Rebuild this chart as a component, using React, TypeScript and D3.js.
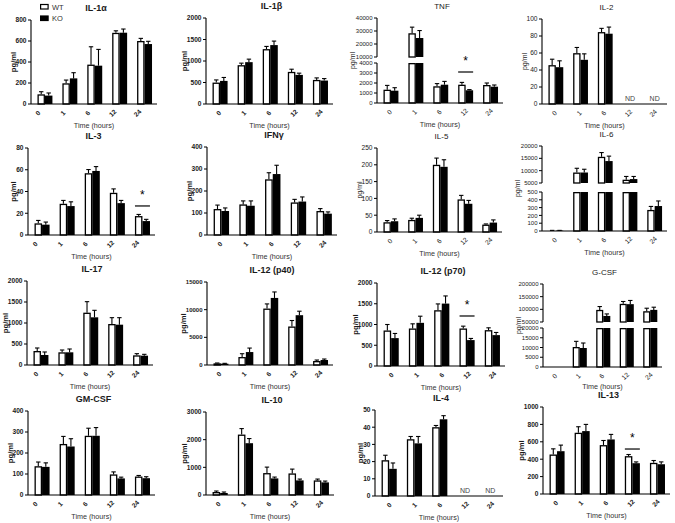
import React from 'react';
import * as d3 from 'd3';

const timePoints = ['0', '1', '6', '12', '24'];
const legendLabels = ['WT', 'KO'];
const xAxisTitle = 'Time (hours)';
const yAxisTitle = 'pg/ml';
const ndLabel = 'ND';

const panelTitles = ['IL-1α', 'IL-1β', 'TNF', 'IL-2', 'IL-3', 'IFNγ', 'IL-5', 'IL-6',
  'IL-17', 'IL-12 (p40)', 'IL-12 (p70)', 'G-CSF', 'GM-CSF', 'IL-10', 'IL-4', 'IL-13'];
const boldTitles = [true, true, false, false, true, true, false, false, true, true, true, false, true, true, true, true];

// ---- values (mean, SEM) per cytokine ----
const il1aWT = [92, 197, 375, 678, 600];
const il1aWTErr = [25, 31, 170, 19, 25];
const il1aKO = [80, 244, 365, 679, 571];
const il1aKOErr = [25, 54, 155, 35, 26];

const il1bWT = [498, 903, 1276, 747, 560];
const il1bWTErr = [62, 47, 63, 62, 47];
const il1bKO = [537, 973, 1370, 677, 545];
const il1bKOErr = [80, 70, 93, 40, 46];

const tnfWT = [1330, 28260, 1670, 1830, 1800];
const tnfWTErr = [430, 4700, 270, 230, 200];
const tnfKO = [1230, 24600, 1830, 1270, 1630];
const tnfKOErr = [300, 5750, 330, 70, 170];

const il2WT = [45.7, 59.8, 84.6, null, null];
const il2WTErr = [7, 6.7, 4.4, 0, 0];
const il2KO = [43.3, 52, 82.7, null, null];
const il2KOErr = [7.5, 7, 7.8, 0, 0];

const il3WT = [10.7, 28.7, 56.8, 38.8, 17.4];
const il3WTErr = [2.7, 3.1, 3.4, 3.6, 1.5];
const il3KO = [9.5, 26.6, 58.9, 29.3, 12.8];
const il3KOErr = [2.4, 3.9, 4, 2.5, 1.6];

const ifngWT = [118, 139, 253, 148, 109];
const ifngWTErr = [18, 16, 30, 14, 11];
const ifngKO = [109, 133, 277, 152, 97];
const ifngKOErr = [14, 22, 40, 21, 8];

const il5WT = [29, 36, 200, 97, 22];
const il5WTErr = [5, 5, 20, 12, 2];
const il5KO = [32, 42, 194, 84, 28];
const il5KOErr = [7, 8, 21, 10, 8];

const il6WT = [5, 9250, 15620, 6330, 270];
const il6WTErr = [3, 1720, 1725, 1320, 45];
const il6KO = [5, 9250, 13890, 6590, 320];
const il6KOErr = [3, 1325, 2000, 1060, 65];

const il17WT = [333, 302, 1246, 976, 230];
const il17WTErr = [72, 55, 262, 151, 40];
const il17KO = [238, 302, 1135, 960, 222];
const il17KOErr = [72, 79, 167, 167, 32];

const il12p40WT = [300, 1440, 10200, 6960, 720];
const il12p40WTErr = [60, 600, 840, 1080, 180];
const il12p40KO = [240, 2340, 12120, 9000, 900];
const il12p40KOErr = [60, 720, 1080, 720, 180];

const il12p70WT = [856, 904, 1344, 904, 864];
const il12p70WTErr = [144, 112, 152, 56, 56];
const il12p70KO = [672, 1040, 1504, 624, 744];
const il12p70KOErr = [112, 160, 184, 40, 64];

const gcsfWT = [0, 10256, 97800, 121700, 92500];
const gcsfWTErr = [0, 2900, 13200, 9300, 11900];
const gcsfKO = [0, 9740, 73900, 120400, 97800];
const gcsfKOErr = [0, 2560, 8000, 14600, 10600];

const gmcsfWT = [137, 243, 282, 98, 88];
const gmcsfWTErr = [20, 36, 36, 12, 5];
const gmcsfKO = [134, 231, 282, 79, 80];
const gmcsfKOErr = [19, 37, 39, 6, 7];

const il10WT = [108, 2184, 792, 780, 528];
const il10WTErr = [36, 216, 216, 156, 48];
const il10KO = [72, 1872, 600, 528, 456];
const il10KOErr = [36, 168, 48, 48, 48];

const il4WT = [20.8, 33, 40, null, null];
const il4WTErr = [2.9, 1.6, 1, 0, 0];
const il4KO = [15.8, 30.6, 44.6, null, null];
const il4KOErr = [3.4, 4, 2.1, 0, 0];

const il13WT = [454, 704, 562, 435, 358];
const il13WTErr = [65, 69, 53, 19, 27];
const il13KO = [492, 723, 627, 354, 342];
const il13KOErr = [70, 77, 58, 15, 27];

// ---- tick values ----
const il1aTicks = [0, 200, 400, 600, 800];
const il1bTicks = [0, 500, 1000, 1500, 2000];
const tnfLowerTicks = [0, 1000, 2000, 3000, 4000];
const tnfUpperTicks = [10000, 20000, 30000, 40000];
const il2Ticks = [0, 20, 40, 60, 80, 100];
const il3Ticks = [0, 20, 40, 60, 80];
const ifngTicks = [0, 100, 200, 300, 400];
const il5Ticks = [0, 50, 100, 150, 200, 250];
const il6LowerTicks = [0, 100, 200, 300, 400, 500];
const il6UpperTicks = [5000, 10000, 15000, 20000];
const il17Ticks = [0, 500, 1000, 1500, 2000];
const il12p40Ticks = [0, 5000, 10000, 15000];
const il12p70Ticks = [0, 500, 1000, 1500, 2000];
const gcsfLowerTicks = [0, 5000, 10000, 15000, 20000];
const gcsfUpperTicks = [50000, 100000, 150000, 200000];
const gmcsfTicks = [0, 100, 200, 300, 400];
const il10Ticks = [0, 1000, 2000, 3000];
const il4Ticks = [0, 10, 20, 30, 40, 50];
const il13Ticks = [0, 200, 400, 600, 800, 1000];

// significance markers: [panel index, time index, bar level value]
const sigMarks = [
  [2, 3, 3100],
  [4, 4, 26.7],
  [10, 3, 1205],
  [15, 3, 517],
];
// not-detected time points per panel
const ndMarks = [
  [3, 3], [3, 4], [14, 3], [14, 4],
];

type Layout = { x0: number; x1: number; top: number; bottom: number; upperBottom?: number; lowerTop?: number; labelDx: number; xTitleDy?: number };

const layouts: Layout[] = [
  { x0: 31, x1: 157, top: 20, bottom: 104, labelDx: -7 },
  { x0: 206, x1: 333, top: 18, bottom: 104, labelDx: -1.5 },
  { x0: 377, x1: 503, top: 18, upperBottom: 57, lowerTop: 63, bottom: 103, labelDx: -1.5 },
  { x0: 542, x1: 667, top: 19, bottom: 104, labelDx: -1.5 },
  { x0: 28, x1: 155, top: 148, bottom: 235, labelDx: -7 },
  { x0: 207, x1: 337, top: 147, bottom: 235, labelDx: -1.5 },
  { x0: 377, x1: 502, top: 148, bottom: 232, labelDx: -1 },
  { x0: 542, x1: 667, top: 146, upperBottom: 183, lowerTop: 192, bottom: 231, labelDx: -1.5 },
  { x0: 27, x1: 153, top: 281, bottom: 365, labelDx: -5 },
  { x0: 207, x1: 333, top: 282, bottom: 365, labelDx: -2 },
  { x0: 377, x1: 505, top: 283, bottom: 366, labelDx: 0 },
  { x0: 543, x1: 662, top: 284, upperBottom: 322, lowerTop: 328, bottom: 367, labelDx: -1.5, xTitleDy: 21.5 },
  { x0: 28, x1: 155, top: 411, bottom: 495, labelDx: -7 },
  { x0: 206, x1: 334, top: 412, bottom: 495, labelDx: -2 },
  { x0: 375, x1: 503, top: 410, bottom: 496, labelDx: 0 },
  { x0: 543, x1: 670, top: 407, bottom: 494, labelDx: -1.5 },
];

const seriesList = [
  [il1aWT, il1aWTErr, il1aKO, il1aKOErr],
  [il1bWT, il1bWTErr, il1bKO, il1bKOErr],
  [tnfWT, tnfWTErr, tnfKO, tnfKOErr],
  [il2WT, il2WTErr, il2KO, il2KOErr],
  [il3WT, il3WTErr, il3KO, il3KOErr],
  [ifngWT, ifngWTErr, ifngKO, ifngKOErr],
  [il5WT, il5WTErr, il5KO, il5KOErr],
  [il6WT, il6WTErr, il6KO, il6KOErr],
  [il17WT, il17WTErr, il17KO, il17KOErr],
  [il12p40WT, il12p40WTErr, il12p40KO, il12p40KOErr],
  [il12p70WT, il12p70WTErr, il12p70KO, il12p70KOErr],
  [gcsfWT, gcsfWTErr, gcsfKO, gcsfKOErr],
  [gmcsfWT, gmcsfWTErr, gmcsfKO, gmcsfKOErr],
  [il10WT, il10WTErr, il10KO, il10KOErr],
  [il4WT, il4WTErr, il4KO, il4KOErr],
  [il13WT, il13WTErr, il13KO, il13KOErr],
] as (number | null)[][][];

const tickList: [number[], number[] | null][] = [
  [il1aTicks, null], [il1bTicks, null], [tnfLowerTicks, tnfUpperTicks], [il2Ticks, null],
  [il3Ticks, null], [ifngTicks, null], [il5Ticks, null], [il6LowerTicks, il6UpperTicks],
  [il17Ticks, null], [il12p40Ticks, null], [il12p70Ticks, null], [gcsfLowerTicks, gcsfUpperTicks],
  [gmcsfTicks, null], [il10Ticks, null], [il4Ticks, null], [il13Ticks, null],
];

const FONT = "'Liberation Sans', Arial, Helvetica, sans-serif";
const TXT = '#1a1a1a';

function Panel({ idx }: { idx: number }) {
  const L = layouts[idx];
  const [wt, wtErr, ko, koErr] = seriesList[idx];
  const [lowerTicks, upperTicks] = tickList[idx];
  const bold = boldTitles[idx];
  const broken = !!upperTicks;
  const band = d3.scaleBand<string>().domain(timePoints).range([L.x0 + 1.5, L.x1]);
  const bw = band.bandwidth() * 0.3;
  const lowerMax = lowerTicks[lowerTicks.length - 1];
  const lower = d3.scaleLinear().domain([0, lowerMax]).range([L.bottom, broken ? (L.lowerTop as number) : L.top]);
  const upper = broken
    ? d3.scaleLinear().domain([upperTicks![0], upperTicks![upperTicks!.length - 1]]).range([L.upperBottom as number, L.top])
    : null;
  const yOf = (v: number) => (upper && v > lowerMax ? upper(v) : lower(v));
  const cxOf = (i: number) => (band(timePoints[i]) as number) + band.bandwidth() / 2;

  const marks: React.ReactNode[] = [];
  const groups: [(number | null)[], (number | null)[], number][] = [[wt, wtErr, 0], [ko, koErr, 1]];
  groups.forEach(([vals, errs, si]) => {
    vals.forEach((v, i) => {
      if (v == null || v <= 0) return;
      const cx = cxOf(i);
      const x = si === 0 ? cx - bw : cx;
      const fill = si === 0 ? '#fff' : '#000';
      const sw = 1.3;
      const rects: [number, number][] = [];
      if (upper && v > lowerMax) {
        rects.push([lower(lowerMax), L.bottom]);
        rects.push([upper(v), L.upperBottom as number]);
      } else {
        rects.push([lower(v), L.bottom]);
      }
      rects.forEach(([y1, y2], k) => {
        marks.push(
          <rect key={`b${si}-${i}-${k}`} x={x + (si === 0 ? sw / 2 : 0)} y={y1 + (si === 0 ? sw / 2 : 0)}
            width={bw - (si === 0 ? sw : 0)} height={Math.max(0, y2 - y1 - (si === 0 ? sw / 2 : 0))}
            fill={fill} stroke={si === 0 ? '#000' : 'none'} strokeWidth={sw} />
        );
      });
      const e = (errs[i] as number) || 0;
      if (e > 0) {
        const xm = x + bw / 2;
        const yA = yOf(v);
        const yB = yOf(v + e);
        marks.push(<line key={`e${si}-${i}`} x1={xm} x2={xm} y1={yA} y2={yB} stroke="#000" strokeWidth={1.1} />);
        marks.push(<line key={`c${si}-${i}`} x1={xm - 2.2} x2={xm + 2.2} y1={yB} y2={yB} stroke="#000" strokeWidth={1.1} />);
      }
    });
  });

  const axisSegs: [number, number][] = broken
    ? [[L.top, L.upperBottom as number], [L.lowerTop as number, L.bottom]]
    : [[L.top, L.bottom]];
  const tickItems: { v: number; y: number }[] = lowerTicks.map((v) => ({ v, y: lower(v) }));
  if (upper) upperTicks!.forEach((v) => tickItems.push({ v, y: upper(v) }));
  const maxChars = d3.max(tickItems, (t) => String(t.v).length) as number;
  const tickFs = maxChars >= 5 ? 6 : 6.6;
  const ylabX = L.x0 - Math.min(24, 7 + maxChars * 3.6);
  const midX = (L.x0 + L.x1) / 2;

  const sig = sigMarks.filter((s) => s[0] === idx);
  const nd = ndMarks.filter((s) => s[0] === idx);

  return (
    <g>
      <text x={midX + 2} y={L.top - 9.5} textAnchor="middle" fontFamily={FONT}
        fontSize={bold ? 9 : 8} fontWeight={bold ? 700 : 400} fill={TXT}>{panelTitles[idx]}</text>
      {marks}
      {axisSegs.map(([a, b], k) => (
        <line key={`ax${k}`} x1={L.x0} x2={L.x0} y1={a} y2={b} stroke="#000" strokeWidth={1.1} />
      ))}
      <line x1={L.x0} x2={L.x1} y1={L.bottom} y2={L.bottom} stroke="#000" strokeWidth={1.1} />
      {tickItems.map((t, k) => (
        <g key={`t${k}`}>
          <line x1={L.x0 - 3} x2={L.x0} y1={t.y} y2={t.y} stroke="#000" strokeWidth={1} />
          <text x={L.x0 - 4.5} y={t.y} dy="0.35em" textAnchor="end" fontFamily={FONT} fontSize={tickFs}
            fontWeight={bold ? 700 : 400} fill={TXT}>{t.v}</text>
        </g>
      ))}
      {timePoints.map((tp, i) => (
        <text key={`x${i}`} transform={`translate(${cxOf(i) + L.labelDx},${L.bottom + 9}) rotate(-45)`}
          textAnchor="middle" dy="0.35em" fontFamily={FONT} fontSize={6.6} fontWeight={bold ? 700 : 400} fill={TXT}>{tp}</text>
      ))}
      <text x={midX} y={L.bottom + (L.xTitleDy ?? 23.5)} textAnchor="middle" fontFamily={FONT} fontSize={7.2} fill="#333">{xAxisTitle}</text>
      <text transform={`translate(${ylabX},${(L.top + L.bottom) / 2}) rotate(-90)`} textAnchor="middle" dy="0.35em"
        fontFamily={FONT} fontSize={bold ? 7.6 : 7} fontWeight={bold ? 700 : 400} fill={TXT}>{yAxisTitle}</text>
      {sig.map((s, k) => {
        const cx = cxOf(s[1]);
        const y = yOf(s[2]);
        return (
          <g key={`s${k}`}>
            <line x1={cx - 7.5} x2={cx + 7.5} y1={y} y2={y} stroke="#000" strokeWidth={1.2} />
            <text x={cx} y={y - 7} textAnchor="middle" fontFamily={FONT} fontSize={12} fill="#000">*</text>
          </g>
        );
      })}
      {nd.map((s, k) => (
        <text key={`n${k}`} x={cxOf(s[1])} y={L.bottom - 3} textAnchor="middle" fontFamily={FONT} fontSize={7} fill="#444">{ndLabel}</text>
      ))}
    </g>
  );
}

function Legend() {
  const L = layouts[0];
  const lx = L.x0 + 9;
  return (
    <g>
      {legendLabels.map((lab, i) => (
        <g key={lab}>
          <rect x={lx + 0.6} y={4.5 + i * 11.5} width={7.5} height={4.5} fill={i === 0 ? '#fff' : '#000'}
            stroke="#000" strokeWidth={1.2} />
          <text x={lx + 12} y={9.8 + i * 11.5} fontFamily={FONT} fontSize={7.5} fill="#333">{lab}</text>
        </g>
      ))}
    </g>
  );
}

export default function App() {
  return (
    <div style={{ position: 'absolute', left: 0, top: 0, width: 675, height: 523, background: '#fff' }}>
      <svg width={675} height={523} viewBox="0 0 675 523"
        style={{ display: 'block', opacity: 0.999, willChange: 'opacity', WebkitFontSmoothing: 'antialiased' } as React.CSSProperties}>
        <rect x={0} y={0} width={675} height={523} fill="#fff" />
        {panelTitles.map((_, i) => <Panel key={i} idx={i} />)}
        <Legend />
      </svg>
    </div>
  );
}
